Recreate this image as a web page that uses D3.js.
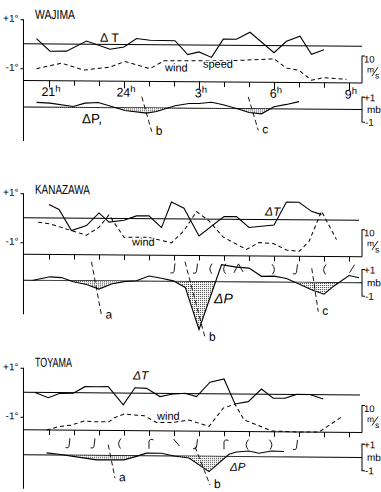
<!DOCTYPE html>
<html>
<head>
<meta charset="utf-8">
<script src="https://cdn.jsdelivr.net/npm/d3@7/dist/d3.min.js"></script>
<style>
  body { margin: 0; background: #fff; }
  svg { display: block; }
  text { font-family: "Liberation Sans", Arial, sans-serif; fill: #000; }
</style>
</head>
<body>
<svg id="chart"></svg>
<script>
// time axis: 21h .. 33h (= 9h next morning)
const hourTicks = d3.range(21, 34);
const hourLabelHours = [21, 24, 27, 30, 33];
const hourLabelText = ["21", "24", "3", "6", "9"];

// WAJIMA  [hour, value]
const wajimaT = [[20.5,0.21],[21.04,-0.30],[21.7,-0.29],[22.5,0.13],[23.44,-0.2],[24.0,-0.1],[24.5,0.25],[25.04,0.18],[26.04,0.17],[26.55,-0.39],[27.0,-0.28],[27.5,-0.5],[27.97,0.25],[28.5,0.25],[29.04,0.54],[30.0,-0.29],[30.5,0.18],[31.04,0.39],[31.5,-0.34],[32.0,-0.15]];
const wajimaW = [[20.5,4.4],[21.5,6.5],[22.4,4.0],[23.44,5.2],[24.04,7.3],[25.04,4.7],[25.6,7.7],[27.0,7.8],[28.3,7.9],[30.0,8.7],[30.5,5.3],[31.0,4.5],[31.5,0.9],[32.0,1.9],[32.9,1.3]];
const wajimaP = [[20.5,0.38],[21.04,0.33],[21.97,0.07],[22.44,0.35],[22.97,0.41],[23.44,0.14],[24.04,-0.22],[24.9,-0.41],[25.3,-0.27],[26.04,0.19],[26.6,0.38],[27.0,0.39],[27.5,0.5],[27.97,0.3],[28.6,-0.05],[29.0,-0.3],[29.5,-0.4],[30.0,0.18],[30.5,0.37],[31.0,0.6]];
const wajimaMarks = [["b",24.71,0.9,25.11,-1.89],["c",28.97,0.95,29.37,-1.71]];

// KANAZAWA
const kanazawaT = [[21.0,0.55],[21.4,0.35],[21.9,-0.51],[22.5,-0.3],[23.0,0.22],[23.4,-0.15],[24.0,-0.07],[24.5,0.11],[25.0,0.12],[25.5,-0.36],[25.9,0.69],[26.4,0.44],[27.0,-0.69],[28.0,0.11],[28.5,0.11],[29.0,-0.33],[30.0,-0.22],[30.5,0.72],[31.0,0.72],[31.5,0.35],[31.9,0.22]];
const kanazawaW = [[20.57,11.9],[21.04,11.3],[21.9,8.9],[22.5,7.2],[23.0,10.2],[23.4,14.8],[24.0,6.6],[25.0,6.6],[25.9,4.6],[26.4,9.2],[26.9,16.3],[27.4,12.9],[27.97,6.9],[28.9,2.4],[29.4,5.0],[29.97,4.7],[30.5,2.3],[31.0,1.8],[31.4,5.5],[31.9,16.8],[32.5,6.3]];
const kanazawaP = [[20.37,0],[21.04,0.27],[21.5,0.22],[21.97,-0.09],[22.5,-0.28],[23.0,-0.62],[23.5,-0.23],[24.0,-0.05],[24.5,0.03],[25.0,0.39],[25.5,0.23],[25.97,0.04],[26.45,-0.45],[27.0,-3.6],[27.9,1.28],[28.5,1.11],[29.0,1.04],[29.5,0.43],[30.0,0.45],[30.5,0.28],[31.0,-0.12],[31.5,-0.55],[32.0,-0.88],[32.4,-0.25],[33.0,0.54],[33.4,0.38]];
const kanazawaMarks = [["a",22.7,1.42,23.1,-2.6],["b",26.44,1.48,27.24,-4.21],["c",31.51,1.07,31.77,-2.19]];
const kanazawaBarbH = [26.0,26.9,27.45,28.0,28.6,30.0,30.9,32.0,33.1];
const kanazawaBarbG = ["J","J","(","(","^",")","J","(","/"];

// TOYAMA
const toyamaT = [[20.44,0],[20.97,-0.21],[21.44,-0.03],[21.97,-0.02],[22.44,0.25],[22.9,0.25],[23.37,0.26],[23.97,-0.48],[24.44,0.22],[24.9,0.2],[25.44,-0.13],[25.9,-0.03],[26.44,0.01],[26.9,-0.12],[27.44,0.47],[28.0,0.61],[28.44,-0.41],[28.97,-0.31],[29.5,0.21],[29.97,-0.16],[30.44,-0.16],[30.9,0],[31.44,0],[31.97,-0.18]];
const toyamaW = [[20.9,0],[21.4,1.3],[21.9,1.9],[22.4,3.4],[22.9,3.2],[23.4,3.2],[23.6,4.7],[24.0,6.1],[24.8,5.6],[25.3,3.1],[25.9,3.1],[26.6,4.1],[27.4,1.8],[27.97,8.6],[28.44,10.1],[28.8,4.3],[29.4,2.2],[29.9,0.3],[30.9,0],[31.8,0],[32.7,5.7]];
const toyamaP = [[20.9,0.16],[21.4,0.06],[21.97,-0.09],[22.9,-0.34],[23.4,-0.33],[24.0,-0.32],[24.5,-0.05],[24.9,0.2],[25.5,0.2],[26.0,0],[26.6,-0.14],[27.4,-1.16],[28.2,0.16],[28.5,0.34],[29.0,0.42],[29.4,0.25],[29.9,0.43],[30.4,0.4]];
const toyamaMarks = [["a",23.37,0.8,23.64,-1.7],["b",26.84,0.71,27.44,-2.16]];
const toyamaBarbH = [21.8,22.8,23.8,25.0,26.1,26.9,28.0,28.9,29.9,30.9];
const toyamaBarbG = ["J","J","(","r","\\","J","r","(",")","J"];


const W = 381, H = 492;
const axisX = 23.5, rightX = 362;

const panels = [
    {name: "WAJIMA", nameLen: 40, nameY: 20, t: wajimaT, w: wajimaW, p: wajimaP, marks: wajimaMarks,
     barbH: [], barbG: [], yT: 45, yW: 81.7, yP: 108.3, mb: 12.5, tEnd: 362, hours: true,
     labels: [
        {s: "Δ T", x: 100, y: 42.5, size: 12.5},
        {s: "wind", x: 165, y: 71.5, size: 11, halo: true},
        {s: "speed", x: 203, y: 67.5, size: 11, halo: true},
        {s: "ΔP,", x: 82, y: 124, size: 13.5}
     ]},
    {name: "KANAZAWA", nameLen: 55, nameY: 195, t: kanazawaT, w: kanazawaW, p: kanazawaP, marks: kanazawaMarks,
     barbH: kanazawaBarbH, barbG: kanazawaBarbG, yT: 219, yW: 255.5, yP: 281.5, mb: 13.3, tEnd: 359, hours: false,
     labels: [
        {s: "ΔT", x: 265, y: 215, size: 12, italic: true},
        {s: "wind", x: 132, y: 246, size: 11, halo: true},
        {s: "ΔP", x: 214, y: 303, size: 14, italic: true}
     ]},
    {name: "TOYAMA", nameLen: 37, nameY: 368, t: toyamaT, w: toyamaW, p: toyamaP, marks: toyamaMarks,
     barbH: toyamaBarbH, barbG: toyamaBarbG, yT: 393.6, yW: 431.1, yP: 456.1, mb: 13.3, tEnd: 360, hours: false,
     labels: [
        {s: "ΔT", x: 133, y: 380, size: 12, italic: true},
        {s: "wind", x: 157, y: 420, size: 11, halo: true},
        {s: "ΔP", x: 230, y: 470.5, size: 11.5, italic: true}
     ]}
];

// little wind-direction glyphs hanging under the time ticks
const barbShapes = {
    "J": "M1,0 L0,8 Q-0.5,10.5 -3.5,9.5",
    "(": "M2,0 Q-2.5,5 1.5,10",
    ")": "M-2,0 Q2.5,5 -1.5,10",
    "/": "M3,0 L-2,8",
    "\\": "M-3,0 L3,7",
    "r": "M0,10 L0,2 Q1.5,-0.5 4.5,1",
    "^": "M-5,9 L-0.5,0 L4,8"
};

const svg = d3.select("#chart").attr("width", W).attr("height", H);
svg.append("rect").attr("width", W).attr("height", H).attr("fill", "#fff");

const defs = svg.append("defs");
const pat = defs.append("pattern")
    .attr("id", "dots")
    .attr("width", 2).attr("height", 2)
    .attr("patternUnits", "userSpaceOnUse");
pat.append("rect").attr("width", 2).attr("height", 2).attr("fill", "#fff");
pat.append("rect").attr("width", 1).attr("height", 1).attr("fill", "#333");

// the scanned page is very slightly skewed
const root = svg.append("g")
    .attr("transform", "translate(190,0) skewY(0.44) translate(-190,0)");

const x = d3.scaleLinear().domain([21, 33]).range([49, 349]);


panels.forEach((p, i) => {
    const g = root.append("g");
    const yT = d3.scaleLinear().domain([-1, 1]).range([p.yT + 24.5, p.yT - 24.5]);
    const yW = d3.scaleLinear().domain([0, 10]).range([p.yW, p.yW - 27]);
    const yP = d3.scaleLinear().domain([-1, 1]).range([p.yP + p.mb, p.yP - p.mb]);

    // station name
    g.append("text")
        .attr("x", 35).attr("y", p.nameY)
        .attr("font-size", 13)
        .attr("textLength", p.nameLen)
        .attr("lengthAdjust", "spacingAndGlyphs")
        .text(p.name);

    // vertical axis
    g.append("line")
        .attr("x1", axisX).attr("x2", axisX)
        .attr("y1", yT(1)).attr("y2", yP(0) + 34)
        .attr("stroke", "#000");

    const ax = g.append("g")
        .attr("transform", `translate(${axisX},0)`)
        .call(d3.axisLeft(yT).tickValues([1, -1]).tickSize(3).tickPadding(2)
            .tickFormat(d => (d > 0 ? "+1°" : "-1°")));
    ax.select(".domain").remove();
    ax.selectAll("text")
        .attr("font-size", 10)
        .attr("font-family", "Liberation Sans, Arial, sans-serif")
        .attr("dy", "0.2em");

    // baselines
    g.append("line").attr("x1", axisX).attr("x2", p.tEnd)
        .attr("y1", yT(0)).attr("y2", yT(0)).attr("stroke", "#000");
    g.append("line").attr("x1", axisX).attr("x2", rightX)
        .attr("y1", yW(0)).attr("y2", yW(0)).attr("stroke", "#000");
    g.append("line").attr("x1", axisX).attr("x2", rightX)
        .attr("y1", yP(0)).attr("y2", yP(0)).attr("stroke", "#000");

    // hour ticks on the wind baseline
    const tk = g.append("g")
        .attr("transform", `translate(0,${yW(0)})`)
        .call(d3.axisBottom(x).tickValues(hourTicks).tickSize(5).tickFormat(""));
    tk.select(".domain").remove();
    tk.selectAll(".tick line").attr("y2", d => (p.hours && d % 3 === 0 ? 7 : 5));

    if (p.hours) {
        hourLabelHours.forEach((h, k) => {
            const lab = g.append("text")
                .attr("x", x(h) + 2).attr("y", yW(0) + 15.5)
                .attr("text-anchor", "middle")
                .attr("font-size", 12.5);
            lab.append("tspan").text(hourLabelText[k]);
            lab.append("tspan").attr("dy", -4.5).attr("font-size", 9.5).text("h");
        });
    }

    // right-hand scale brackets
    g.append("path")
        .attr("d", `M${rightX},${yW(0)} V${yW(10)} h3`)
        .attr("fill", "none").attr("stroke", "#000");
    g.append("text").attr("x", 364).attr("y", yW(10) + 6.5).attr("font-size", 9.5).text("10");
    g.append("text").attr("x", 367).attr("y", yW(10) + 16.5).attr("font-size", 8.5).text("m");
    g.append("line")
        .attr("x1", 372).attr("y1", yW(10) + 20).attr("x2", 378).attr("y2", yW(10) + 11)
        .attr("stroke", "#000").attr("stroke-width", 0.9);
    g.append("text").attr("x", 375).attr("y", yW(10) + 22.5).attr("font-size", 8.5).text("s");

    g.append("path")
        .attr("d", `M${rightX + 3},${yP(1)} H${rightX} V${yP(-1)} h3`)
        .attr("fill", "none").attr("stroke", "#000");
    g.append("text").attr("x", 364).attr("y", yP(1) + 4).attr("font-size", 10).text("+1");
    g.append("text").attr("x", 367).attr("y", yP(0) + 3.4).attr("font-size", 10).text("mb");
    g.append("text").attr("x", 365).attr("y", yP(-1) + 3.5).attr("font-size", 10).text("-1");

    // stippled pressure dips (below the baseline only)
    const clipId = `neg${i}`;
    defs.append("clipPath").attr("id", clipId)
        .append("rect")
        .attr("x", 0).attr("y", yP(0))
        .attr("width", W).attr("height", 80);
    g.append("path")
        .datum(p.p)
        .attr("clip-path", `url(#${clipId})`)
        .attr("fill", "url(#dots)")
        .attr("d", d3.area().x(d => x(d[0])).y0(yP(0)).y1(d => yP(d[1])));

    // dashed tracking lines a / b / c
    p.marks.forEach(m => {
        g.append("line")
            .attr("x1", x(m[1])).attr("y1", yP(m[2]))
            .attr("x2", x(m[3])).attr("y2", yP(m[4]))
            .attr("stroke", "#000").attr("stroke-width", 0.9)
            .attr("stroke-dasharray", "5,3");
        g.append("text")
            .attr("x", x(m[3]) + 4).attr("y", yP(m[4]) + 3)
            .attr("font-size", 12)
            .text(m[0]);
    });

    // wind direction glyphs
    p.barbH.forEach((h, k) => {
        g.append("path")
            .attr("transform", `translate(${x(h)},${yW(0) + 8})`)
            .attr("d", barbShapes[p.barbG[k]])
            .attr("fill", "none").attr("stroke", "#000").attr("stroke-width", 0.9);
    });

    // series
    const line = (ys) => d3.line().x(d => x(d[0])).y(d => ys(d[1]));
    g.append("path").datum(p.w)
        .attr("fill", "none").attr("stroke", "#000").attr("stroke-width", 1)
        .attr("stroke-dasharray", "4,3")
        .attr("d", line(yW));
    g.append("path").datum(p.t)
        .attr("fill", "none").attr("stroke", "#000").attr("stroke-width", 1.1)
        .attr("d", line(yT));
    g.append("path").datum(p.p)
        .attr("fill", "none").attr("stroke", "#000").attr("stroke-width", 1.1)
        .attr("d", line(yP));

    // annotations
    p.labels.forEach(l => {
        const t = g.append("text")
            .attr("x", l.x).attr("y", l.y)
            .attr("font-size", l.size)
            .attr("font-style", l.italic ? "italic" : "normal")
            .text(l.s);
        if (l.halo) {
            t.attr("stroke", "#fff").attr("stroke-width", 2.5).attr("paint-order", "stroke");
        }
    });
});
</script>
</body>
</html>
